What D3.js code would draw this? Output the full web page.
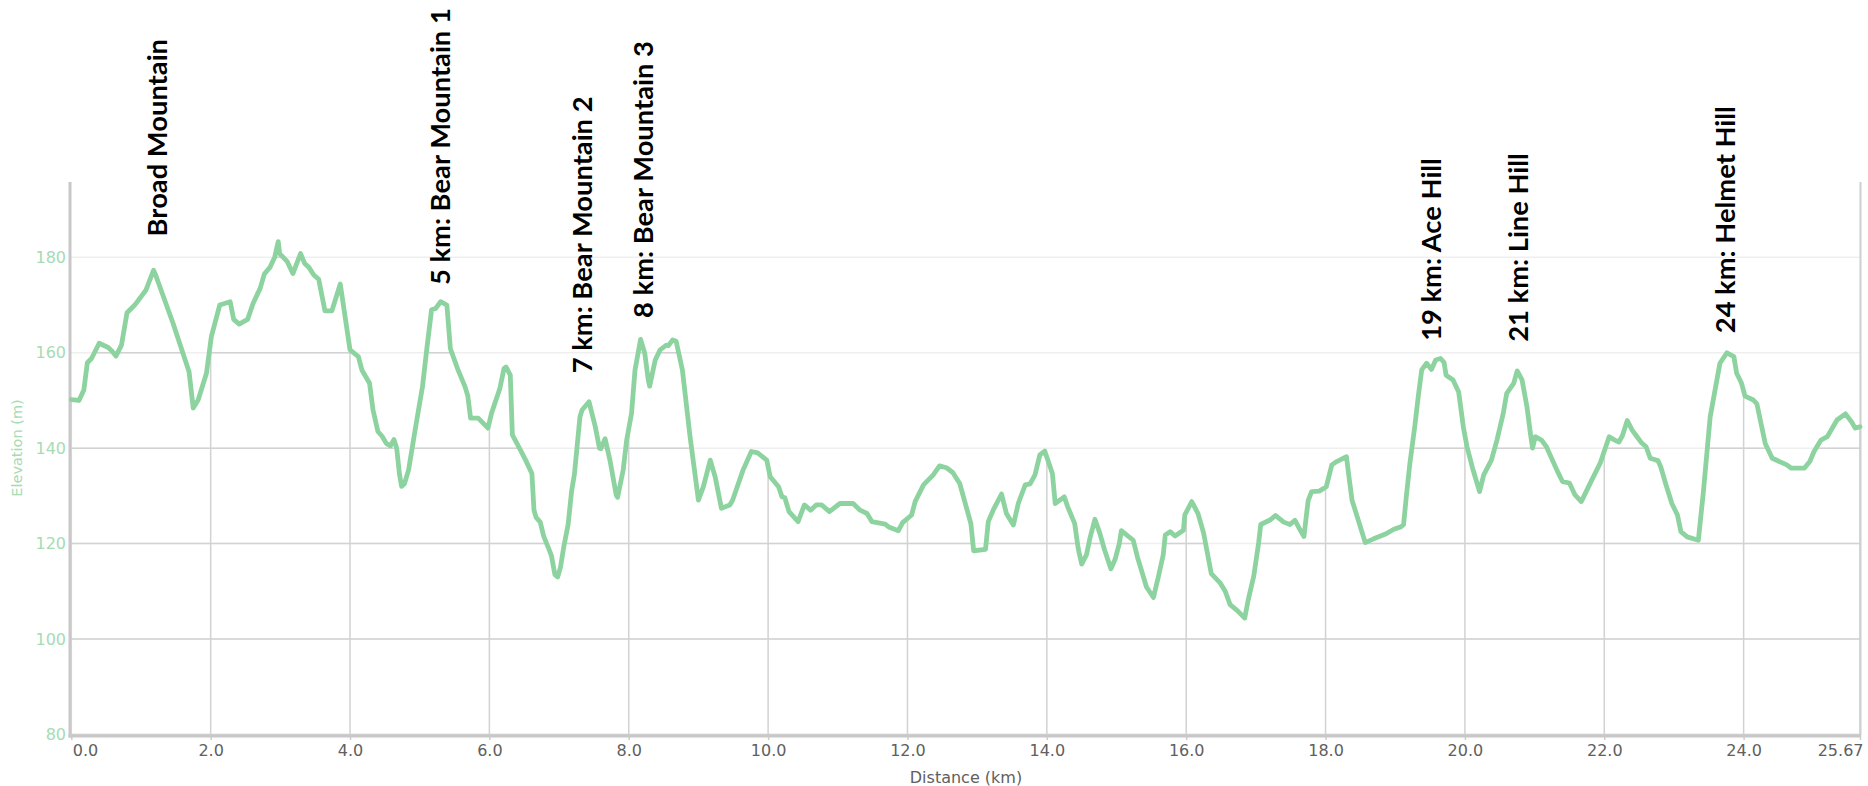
<!DOCTYPE html>
<html><head><meta charset="utf-8">
<script src="https://cdn.jsdelivr.net/npm/d3@7"></script>
<style>html,body{margin:0;padding:0;background:#fff;} svg{display:block}</style>
</head><body><svg id="chart" width="1868" height="786"></svg>
<script>
// ---------- data ----------
const distanceKm = [0.00,0.11,0.18,0.23,0.29,0.40,0.53,0.58,0.64,0.72,0.80,0.91,1.07,1.18,1.21,1.46,1.69,1.75,1.82,1.94,
2.01,2.13,2.28,2.33,2.41,2.53,2.61,2.71,2.77,2.85,2.92,2.97,2.99,3.10,3.18,3.29,3.35,3.41,3.48,3.55,3.61,3.64,3.74,3.86,
4.00,4.12,4.17,4.28,4.33,4.40,4.46,4.52,4.58,4.63,4.67,4.71,4.74,4.78,4.84,4.95,5.04,5.10,5.17,5.23,5.30,5.39,5.44,5.55,
5.65,5.69,5.73,5.84,5.98,6.03,6.15,6.21,6.24,6.30,6.33,6.45,6.52,6.61,6.64,6.67,6.73,6.78,6.85,6.89,6.94,6.98,7.02,7.07,
7.13,7.18,7.22,7.30,7.33,7.43,7.52,7.58,7.60,7.66,7.73,7.82,7.84,7.92,7.97,8.04,8.09,8.17,8.23,8.28,8.30,8.38,8.45,8.54,
8.57,8.63,8.68,8.77,8.88,9.00,9.07,9.17,9.24,9.33,9.45,9.49,9.64,9.76,9.85,9.98,10.03,10.15,10.20,10.24,10.30,10.43,10.52,
10.61,10.69,10.77,10.88,11.03,11.22,11.32,11.42,11.49,11.68,11.74,11.87,11.93,12.06,12.11,12.23,12.37,12.46,12.56,12.65,
12.75,12.91,12.95,13.12,13.16,13.23,13.35,13.42,13.52,13.59,13.69,13.76,13.83,13.90,13.97,14.08,14.12,14.25,14.30,14.40,
14.45,14.50,14.57,14.62,14.69,14.76,14.83,14.92,14.98,15.04,15.07,15.13,15.24,15.30,15.43,15.53,15.60,15.67,15.70,15.77,
15.84,15.96,15.98,16.08,16.17,16.25,16.36,16.49,16.56,16.63,16.73,16.84,16.89,16.97,17.04,17.07,17.21,17.28,17.40,17.49,
17.56,17.63,17.69,17.75,17.80,17.91,18.01,18.09,18.16,18.23,18.30,18.33,18.38,18.47,18.57,18.69,18.86,18.98,19.08,19.12,
19.16,19.21,19.28,19.33,19.38,19.45,19.52,19.58,19.65,19.70,19.73,19.83,19.91,19.98,20.03,20.11,20.21,20.27,20.38,20.46,
20.55,20.60,20.70,20.75,20.82,20.89,20.94,20.97,21.01,21.10,21.17,21.32,21.40,21.50,21.58,21.67,21.82,21.94,22.07,22.15,
22.21,22.26,22.33,22.40,22.47,22.53,22.60,22.66,22.77,22.81,22.88,22.97,23.05,23.10,23.19,23.35,23.42,23.52,23.59,23.66,
23.76,23.86,23.90,23.97,24.02,24.14,24.19,24.31,24.41,24.62,24.68,24.87,24.95,25.01,25.11,25.20,25.34,25.46,25.55,25.60,25.67];

const elevationM = [150.2,150,152.2,157.9,158.8,162,161.1,160.4,159.3,161.6,168.4,170,173.1,177.3,176.3,166.2,156,148.4,150.1,155.7,
163.4,170,170.7,167,166,167,170.4,173.5,176.5,177.9,180.1,183.3,180.8,179.1,176.6,180.8,178.7,177.9,176.3,175.4,171,168.8,168.8,174.4,
160.6,159.2,156.4,153.6,148,143.5,142.5,141,140.5,141.8,140,134.5,132,132.5,135.4,145.2,152.9,160.6,169,169.3,170.7,170,160.9,156.4,
152.9,151,146.3,146.3,144.2,147.3,152.5,156.7,157,155.3,142.8,139.5,137.5,134.7,127,125.5,124.5,121.5,119,117.5,113.5,113,115,119.5,
124,131,134.5,146.6,148,149.7,144.5,140,139.9,142,137.5,130.2,129.7,135.4,141.7,147.3,156.4,162.8,159.9,154.3,153,158.5,160.6,161.6,
161.5,162.7,162.4,156.4,142.4,129.1,131.9,137.5,134,127.4,128.1,129.1,135.4,139.3,139,137.5,134,131.9,129.8,129.6,126.7,124.6,128.1,
127,128.1,128.1,126.7,128.4,128.4,127,126.3,124.6,124.1,123.4,122.7,124.4,126,128.8,132.3,134.4,136.3,135.9,134.9,
132.6,124.2,118.5,118.8,124.6,127,130.4,126.3,123.9,128.4,132.3,132.5,134.4,138.6,139.4,134.7,128.4,129.8,127.7,124.2,
119,115.7,117.7,121.2,125.1,122.2,118.6,114.7,116.7,120,122.7,122,120.7,117.2,110.9,108.7,113,117.6,121.8,122.5,
121.6,122.8,126,128.8,126.3,122.2,113.7,111.7,110,107.2,106,104.4,108.2,113.2,120.2,124,125,125.9,124.5,124,
124.9,123,121.5,129,130.9,131,131.9,136.5,137.2,137.7,138.2,134.7,129.1,124.9,120.2,121,122,123,123.5,124,
130,136.8,144.5,150.8,156.4,157.8,156.5,158.5,158.8,158,155.3,154.3,151.8,144.2,140.3,135.8,130.9,134.4,137.5,141.7,
147.3,151.5,153.6,156.2,154.3,148.7,143.1,140,142.4,141.7,140.3,135.4,133,132.7,130.2,128.8,133.3,136.8,142.4,141.7,
141.3,142.6,145.8,143.8,142.4,141.2,140.3,137.9,137.4,136.1,132.6,128.4,126,122.5,121.4,120.7,130.5,146.6,152.2,157.8,
160,159.2,155.7,153.6,150.9,150.1,149.3,141,137.9,136.5,135.8,135.8,137.2,139.3,141.7,142.4,145.9,147.2,145.5,144.2,144.5];

const xTickValues = [0,2,4,6,8,10,12,14,16,18,20,22,24,25.67];
const xTickLabels = ["0.0","2.0","4.0","6.0","8.0","10.0","12.0","14.0","16.0","18.0","20.0","22.0","24.0","25.67"];
const yTickValues = [80,100,120,140,160,180];
const yTickLabels = ["80","100","120","140","160","180"];

const peakNames = ["Broad Mountain","5 km: Bear Mountain 1","7 km: Bear Mountain 2","8 km: Bear Mountain 3","19 km: Ace Hill","21 km: Line Hill","24 km: Helmet Hill"];
const peakKm = [1.37,5.43,7.47,8.35,19.65,20.91,23.87];
const peakElev = [184.4,174.2,155.7,167.3,162.5,162.3,164.1];

const xTitle = "Distance (km)";
const yTitle = "Elevation (m)";

// ---------- chart ----------
const svg = d3.select("#chart");
const L = 70, R = 1861, T = 182, B = 735;
const x = d3.scaleLinear().domain([0, 25.67]).range([71.3, 1860]);
const y = d3.scaleLinear().domain([80, 195.8]).range([734.4, 182]);

const pts = distanceKm.map((d,i)=>[d, elevationM[i]]);
const line = d3.line().x(d=>x(d[0])).y(d=>y(d[1]));
const area = d3.area().x(d=>x(d[0])).y0(B).y1(d=>y(d[1]));

const defs = svg.append("defs");
defs.append("clipPath").attr("id","below").append("path").attr("d", area(pts));

// faint gridlines everywhere (above curve)
const gFaint = svg.append("g");
gFaint.selectAll("line").data(yTickValues).join("line")
  .attr("x1", L).attr("x2", R).attr("y1", d=>y(d)).attr("y2", d=>y(d))
  .attr("stroke", "#efefef").attr("stroke-width", 1.5);

// stronger gridlines below curve
const gStrong = svg.append("g").attr("clip-path","url(#below)");
gStrong.selectAll("line.h").data(yTickValues).join("line").attr("class","h")
  .attr("x1", L).attr("x2", R).attr("y1", d=>y(d)).attr("y2", d=>y(d))
  .attr("stroke", "#d2d2d2").attr("stroke-width", 1.5);
gStrong.selectAll("line.v").data(xTickValues).join("line").attr("class","v")
  .attr("x1", d=>x(d)).attr("x2", d=>x(d)).attr("y1", T).attr("y2", B)
  .attr("stroke", "#d2d2d2").attr("stroke-width", 1.5);

// right border
svg.append("line").attr("x1", R-0.5).attr("x2", R-0.5).attr("y1", T).attr("y2", B)
  .attr("stroke", "#cfcfcf").attr("stroke-width", 2);

// x axis
const xAxis = d3.axisBottom(x).tickValues(xTickValues)
  .tickFormat((d,i)=>xTickLabels[i]).tickSize(5).tickSizeOuter(0);
const gx = svg.append("g").attr("transform", `translate(0,${B})`).call(xAxis);
gx.select(".domain").remove();
gx.selectAll(".tick line").attr("stroke", "#cccccc").attr("stroke-width", 1.5);
gx.selectAll(".tick text").attr("fill", "#606060")
  .style("font-family", "'DejaVu Sans', Verdana, sans-serif").style("font-size", "16px")
  .attr("y", 10).attr("dy", "0.71em")
  .attr("text-anchor", (d,i)=> i===0 ? "start" : (i===xTickValues.length-1 ? "end" : "middle"))
  .attr("dx", (d,i)=> i===0 ? 1 : (i===xTickValues.length-1 ? 3 : 0));
svg.append("line").attr("x1", L-1.5).attr("x2", R).attr("y1", B+1).attr("y2", B+1)
  .attr("stroke", "#c8c8c8").attr("stroke-width", 3);

// y axis
const yAxis = d3.axisLeft(y).tickValues(yTickValues).tickFormat((d,i)=>yTickLabels[i]).tickSize(0);
const gy = svg.append("g").attr("transform", `translate(${L},0)`).call(yAxis);
gy.select(".domain").remove();
gy.selectAll(".tick text").attr("fill", "#a6dbb3").attr("x", -4)
  .style("font-family", "'DejaVu Sans', Verdana, sans-serif").style("font-size", "16px");
svg.append("line").attr("x1", L).attr("x2", L).attr("y1", T).attr("y2", B+2.5)
  .attr("stroke", "#c8c8c8").attr("stroke-width", 3);

// titles
svg.append("text").text(xTitle).attr("x", 966).attr("y", 777).attr("dy", "0.35em")
  .attr("text-anchor", "middle").attr("fill", "#606060")
  .style("font-family", "'DejaVu Sans', Verdana, sans-serif").style("font-size", "16px");
svg.append("text").text(yTitle).attr("transform", "translate(17,448) rotate(-90)")
  .attr("dy", "0.35em").attr("text-anchor", "middle").attr("fill", "#a6dbb3")
  .style("font-family", "'DejaVu Sans', Verdana, sans-serif").style("font-size", "14.5px");

// elevation line
svg.append("path").datum(pts).attr("d", line)
  .attr("fill", "none").attr("stroke", "#8dd3a0").attr("stroke-width", 4.8)
  .attr("stroke-linejoin", "round").attr("stroke-linecap", "round");

// peak labels
const fontFam = "Lato, 'Open Sans', sans-serif";
const probe = svg.append("text").text(peakNames[1]).style("font-family", fontFam)
  .style("font-weight", "bold").style("font-size", "100px");
const probeLen = probe.node().getComputedTextLength();
probe.remove();
const labelSize = 100 * 277 / probeLen;
svg.append("g").selectAll("text").data(peakNames).join("text")
  .text(d=>d)
  .attr("transform", (d,i)=>`translate(${x(peakKm[i])},${y(peakElev[i])}) rotate(-90)`)
  .attr("text-anchor", "start").attr("fill", "#000")
  .style("font-family", fontFam).style("font-weight", "bold").style("font-size", labelSize + "px");
</script></body></html>
